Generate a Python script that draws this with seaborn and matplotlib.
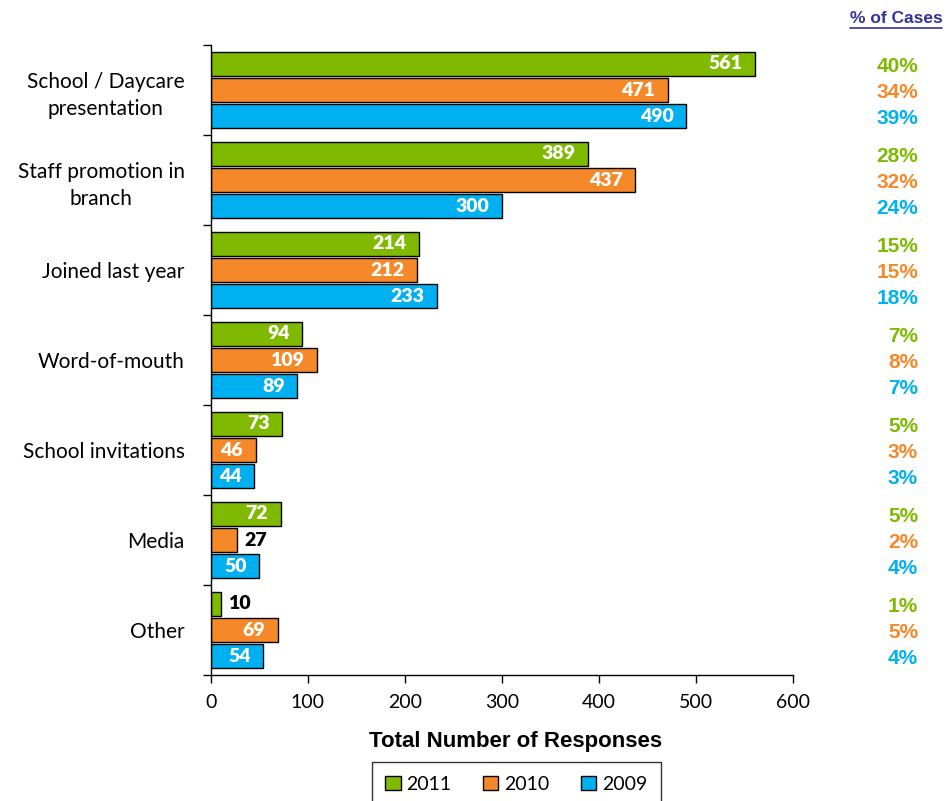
import numpy as np
import pandas as pd
import matplotlib.pyplot as plt
import seaborn as sns
from matplotlib.lines import Line2D
from matplotlib.transforms import blended_transform_factory

# ---- Data ----
categories = ["School / Daycare\npresentation", "Staff promotion in\nbranch", "Joined last year",
              "Word-of-mouth", "School invitations", "Media", "Other"]
years = ["2011", "2010", "2009"]
resp_2011 = [561, 389, 214, 94, 73, 72, 10]
resp_2010 = [471, 437, 212, 109, 46, 27, 69]
resp_2009 = [490, 300, 233, 89, 44, 50, 54]
pct_2011 = [40, 28, 15, 7, 5, 5, 1]
pct_2010 = [34, 32, 15, 8, 3, 2, 5]
pct_2009 = [39, 24, 18, 7, 3, 4, 4]
x_ticks = [0, 100, 200, 300, 400, 500, 600]

colors = {"2011": "#7FBA00", "2010": "#F5892A", "2009": "#00B0F0"}

df = pd.DataFrame({
    "category": categories * 3,
    "year": ["2011"] * 7 + ["2010"] * 7 + ["2009"] * 7,
    "responses": resp_2011 + resp_2010 + resp_2009,
})
pcts = {"2011": pct_2011, "2010": pct_2010, "2009": pct_2009}
vals = {"2011": resp_2011, "2010": resp_2010, "2009": resp_2009}

# ---- Plot ----
sns.set_style("white")
plt.rcParams["font.family"] = ["Lato", "DejaVu Sans"]
plt.rcParams["text.color"] = "black"
plt.rcParams["xtick.color"] = "black"
plt.rcParams["ytick.color"] = "black"
fig = plt.figure(figsize=(9.49, 8.01), dpi=100)
ax = fig.add_axes([0.2223, 0.1573, 0.6133, 0.7865])

sns.barplot(data=df, y="category", x="responses", hue="year", hue_order=years,
            palette=colors, orient="h", width=0.87, gap=0.06,
            edgecolor="black", linewidth=1, saturation=1, ax=ax, legend=True)

ax.set_xlim(0, 600)
ax.set_ylim(6.5, -0.5)
ax.set_xticks(x_ticks)
ax.set_xticklabels([str(t) for t in x_ticks], fontsize=14)
ax.set_yticks(range(len(categories)))
ax.set_yticklabels(categories, fontsize=15, linespacing=1.45, multialignment="center")
ax.tick_params(axis="y", which="major", left=False, length=0, pad=19)
ax.set_yticks(np.arange(-0.5, 7, 1), minor=True)
ax.tick_params(axis="y", which="minor", left=True, length=6, width=1, color="black", direction="out")
ax.tick_params(axis="x", bottom=True, length=6, width=1, color="black", direction="out", pad=8)
for s in ["top", "right"]:
    ax.spines[s].set_visible(False)
for s in ["left", "bottom"]:
    ax.spines[s].set_color("black")
    ax.spines[s].set_linewidth(1)
ax.set_ylabel("")
ax.set_xlabel("Total Number of Responses", fontsize=16, fontweight="bold",
              family="Liberation Sans", color="black")
ax.xaxis.set_label_coords(0.524, -0.106)
ax.xaxis.label.set_va("center")

# ---- Value labels and % of cases ----
trans = blended_transform_factory(ax.transAxes, ax.transData)
for cont, yr in zip(ax.containers, years):
    for patch, v, p in zip(cont.patches, vals[yr], pcts[yr]):
        yc = patch.get_y() + patch.get_height() / 2
        if v >= 40:
            ax.annotate(str(v), (v, yc), xytext=(-9, 0), textcoords="offset points",
                        ha="right", va="center", color="white", fontsize=14, fontweight="heavy")
        else:
            ax.annotate(str(v), (v, yc), xytext=(5, 0), textcoords="offset points",
                        ha="left", va="center", color="black", fontsize=14, fontweight="heavy")
        ax.text(1.215, yc + 0.03, f"{p}%", transform=trans, ha="right", va="center",
                color=colors[yr], fontsize=15, fontweight="bold", family="Liberation Sans")

hdr = fig.text(0.993, 0.977, "% of Cases", ha="right", va="center", color="#333399",
               fontsize=12.5, fontweight="bold", family="Liberation Sans")
fig.canvas.draw()
bb = hdr.get_window_extent().transformed(fig.transFigure.inverted())
fig.add_artist(Line2D([bb.x0, bb.x1], [bb.y0 - 0.002, bb.y0 - 0.002],
                      color="#333399", linewidth=1.2, transform=fig.transFigure))

# ---- Legend ----
ax.legend_.remove()
handles = [plt.Rectangle((0, 0), 1, 1, facecolor=colors[y], edgecolor="black", linewidth=1)
           for y in years]
leg = fig.legend(handles, years, loc="upper center", bbox_to_anchor=(0.544, 0.0487),
                 ncol=3, fontsize=14, frameon=True, fancybox=False, edgecolor="black",
                 handlelength=0.8, handleheight=0.8, handletextpad=0.3,
                 columnspacing=1.6, borderpad=0.7, borderaxespad=0)
leg.get_frame().set_linewidth(1)

fig.savefig("out.png", dpi=100)
